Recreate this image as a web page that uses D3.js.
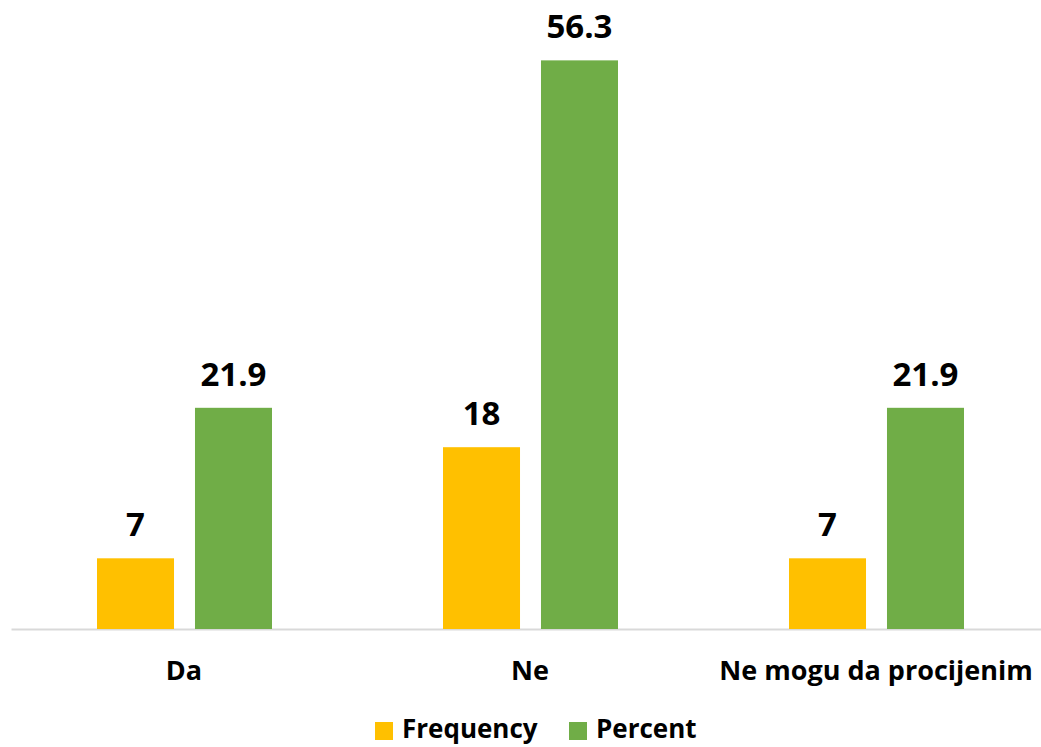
<!DOCTYPE html>
<html>
<head>
<meta charset="utf-8">
<script src="https://cdn.jsdelivr.net/npm/d3@7"></script>
<style>
  body { margin: 0; background: #fff; }
  text { font-family: "Open Sans", sans-serif; font-weight: bold; fill: #000; }
</style>
</head>
<body>
<svg id="chart" width="1041" height="747"></svg>
<script>
const categories = ["Da", "Ne", "Ne mogu da procijenim"];
const series = ["Frequency", "Percent"];
const frequency = [7, 18, 7];
const percent = [21.9, 56.3, 21.9];
const colors = ["#ffc000", "#70ad47"];

const rows = categories.map((c, i) => ({
  cat: c,
  vals: [
    { key: series[0], value: frequency[i] },
    { key: series[1], value: percent[i] }
  ]
}));

const svg = d3.select("#chart");

const x0 = d3.scaleBand().domain(categories).range([11, 1049]);
const x1 = d3.scaleBand().domain(series).range([86, 261]).paddingInner(0.214);
const y = d3.scaleLinear().domain([0, 60]).range([629, 23]);
const color = d3.scaleOrdinal().domain(series).range(colors);

// axis
const axis = svg.append("g")
  .attr("transform", "translate(0," + y(0) + ")")
  .call(d3.axisBottom(x0).tickSize(0).tickPadding(0));
axis.select(".domain").attr("stroke", "#d9d9d9").attr("stroke-width", 2);
axis.selectAll(".tick text")
  .attr("dy", null)
  .attr("y", 51)
  .style("font-family", "'Open Sans', sans-serif")
  .style("font-weight", "bold")
  .style("font-size", "27px")
  .attr("fill", "#000");

const groups = svg.append("g")
  .selectAll("g")
  .data(rows)
  .join("g")
  .attr("transform", d => "translate(" + x0(d.cat) + ",0)");

groups.selectAll("rect")
  .data(d => d.vals)
  .join("rect")
  .attr("x", d => x1(d.key))
  .attr("y", d => y(d.value))
  .attr("width", x1.bandwidth())
  .attr("height", d => y(0) - y(d.value))
  .attr("fill", d => color(d.key));

groups.selectAll("text.val")
  .data(d => d.vals)
  .join("text")
  .attr("class", "val")
  .attr("x", d => x1(d.key) + x1.bandwidth() / 2)
  .attr("y", d => y(d.value) - 22)
  .attr("text-anchor", "middle")
  .style("font-size", "33px")
  .text(d => d.value);

// legend
const legend = svg.append("g");
const legendX = [375, 569];
series.forEach((s, i) => {
  legend.append("rect")
    .attr("x", legendX[i]).attr("y", 722)
    .attr("width", 18).attr("height", 18)
    .attr("fill", color(s));
  legend.append("text")
    .attr("x", legendX[i] + 27).attr("y", 738)
    .style("font-size", "26px")
    .text(s);
});
</script>
</body>
</html>
